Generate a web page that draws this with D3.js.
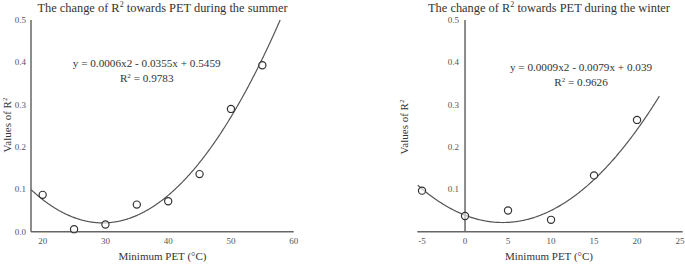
<!DOCTYPE html>
<html>
<head>
<meta charset="utf-8">
<script src="https://cdn.jsdelivr.net/npm/d3@7"></script>
<style>
  body { margin: 0; background: #fff; }
  text { font-family: "Liberation Serif", "Times New Roman", serif; }
</style>
</head>
<body>
<div id="chart"></div>
<script>
// summer panel
var summerPET = [20, 25, 30, 35, 40, 45, 50, 55];
var summerR2 = [0.087, 0.006, 0.017, 0.064, 0.072, 0.136, 0.29, 0.393];
var summerCoef = [0.0006, -0.0355, 0.5459];
var summerTicksX = [20, 30, 40, 50, 60];
var summerTicksY = [0.0, 0.1, 0.2, 0.3, 0.4, 0.5];

// winter panel
var winterPET = [-5, 0, 5, 10, 15, 20];
var winterR2 = [0.097, 0.037, 0.05, 0.028, 0.133, 0.264];
var winterCoef = [0.0009, -0.0079, 0.039];
var winterTicksX = [-5, 0, 5, 10, 15, 20, 25];
var winterTicksY = [0.1, 0.2, 0.3, 0.4, 0.5];

var svg = d3.select("#chart").append("svg")
  .attr("width", 685).attr("height", 264)
  .style("background-color", "white");

var axisCol = "#666", textCol = "#333";

function panel(opt) {
  var g = svg.append("g");
  var x = d3.scaleLinear().domain(opt.xDomain).range(opt.xRange);
  var y = d3.scaleLinear().domain([0, 0.5]).range([231.7, 20]);

  // x axis line
  g.append("line")
    .attr("x1", opt.xRange[0]).attr("x2", opt.xRange[1])
    .attr("y1", y(0)).attr("y2", y(0))
    .attr("stroke", axisCol).attr("stroke-width", 1.5);
  // y axis line at x = yAt
  var yx = x(opt.yAt);
  g.append("line")
    .attr("x1", yx).attr("x2", yx)
    .attr("y1", y(0.5)).attr("y2", y(0))
    .attr("stroke", axisCol).attr("stroke-width", 1.5);

  g.selectAll(".xt").data(opt.ticksX).enter().append("text")
    .attr("x", function(d) { return x(d); })
    .attr("y", 244)
    .attr("text-anchor", "middle")
    .attr("font-size", 9)
    .attr("fill", "#555")
    .text(function(d) { return d; });

  g.selectAll(".yt").data(opt.ticksY).enter().append("text")
    .attr("x", yx - opt.yLabelGap)
    .attr("y", function(d) { return y(d) + 3; })
    .attr("text-anchor", "end")
    .attr("font-size", 9)
    .attr("fill", "#555")
    .text(function(d) { return d.toFixed(1); });

  // title
  var t = g.append("text")
    .attr("x", opt.titleX).attr("y", 12)
    .attr("text-anchor", "middle")
    .attr("font-size", 12.4)
    .attr("fill", textCol);
  t.append("tspan").text("The change of R");
  t.append("tspan").attr("font-size", 8).attr("dy", -5).text("2");
  t.append("tspan").attr("dy", 5).text(" towards PET during the " + opt.season);

  // axis titles
  g.append("text")
    .attr("x", opt.titleX).attr("y", 260)
    .attr("text-anchor", "middle")
    .attr("font-size", 11)
    .attr("fill", textCol)
    .text("Minimum PET (\u00B0C)");

  var yt = g.append("text")
    .attr("transform", "translate(" + opt.yTitleX + "," + opt.yTitleY + ") rotate(-90)")
    .attr("text-anchor", "middle")
    .attr("font-size", 11)
    .attr("fill", textCol);
  yt.append("tspan").text("Values of R");
  yt.append("tspan").attr("font-size", 7).attr("dy", -4).text("2");

  // trend line from the displayed coefficients
  var c = opt.coef;
  var f = function(v) { return c[0] * v * v + c[1] * v + c[2]; };
  var xs = d3.range(opt.curve[0], opt.curve[1] + 0.001, 0.1)
    .filter(function(v) { return f(v) <= 0.5; });
  var line = d3.line()
    .x(function(v) { return x(v); })
    .y(function(v) { return y(f(v)); });
  g.append("path").datum(xs)
    .attr("fill", "none")
    .attr("stroke", "#555")
    .attr("stroke-width", 1.2)
    .attr("d", line);

  // points
  g.selectAll("circle").data(opt.px).enter().append("circle")
    .attr("cx", function(d) { return x(d); })
    .attr("cy", function(d, i) { return y(opt.py[i]); })
    .attr("r", 3.6)
    .attr("fill", "white")
    .attr("fill-opacity", 0.6)
    .attr("stroke", "#333")
    .attr("stroke-width", 1.2);

  // equation text
  g.append("text")
    .attr("x", opt.eqX).attr("y", opt.eqY)
    .attr("text-anchor", "middle")
    .attr("font-size", 11.2)
    .attr("fill", textCol)
    .text("y = " + c[0] + "x2 - " + Math.abs(c[1]) + "x + " + c[2]);
  var r2 = g.append("text")
    .attr("x", opt.eqX).attr("y", opt.eqY + 15)
    .attr("text-anchor", "middle")
    .attr("font-size", 11.2)
    .attr("fill", textCol);
  r2.append("tspan").text("R");
  r2.append("tspan").attr("font-size", 7).attr("dy", -4).text("2");
  r2.append("tspan").attr("dy", 4).text(" = " + opt.r2);
}

panel({
  season: "summer",
  px: summerPET, py: summerR2, coef: summerCoef, r2: "0.9783",
  ticksX: summerTicksX, ticksY: summerTicksY,
  xDomain: [18.14, 60], xRange: [31, 293.7], yAt: 18.14, yLabelGap: 5,
  curve: [18.14, 60],
  titleX: 162.5, yTitleX: 11, yTitleY: 125,
  eqX: 146.7, eqY: 67
});

panel({
  season: "winter",
  px: winterPET, py: winterR2, coef: winterCoef, r2: "0.9626",
  ticksX: winterTicksX, ticksY: winterTicksY,
  xDomain: [-5.55, 25.3], xRange: [417.3, 682.6], yAt: 0, yLabelGap: 6,
  curve: [-5.5, 22.6],
  titleX: 549, yTitleX: 408, yTitleY: 127,
  eqX: 581, eqY: 71
});
</script>
</body>
</html>
